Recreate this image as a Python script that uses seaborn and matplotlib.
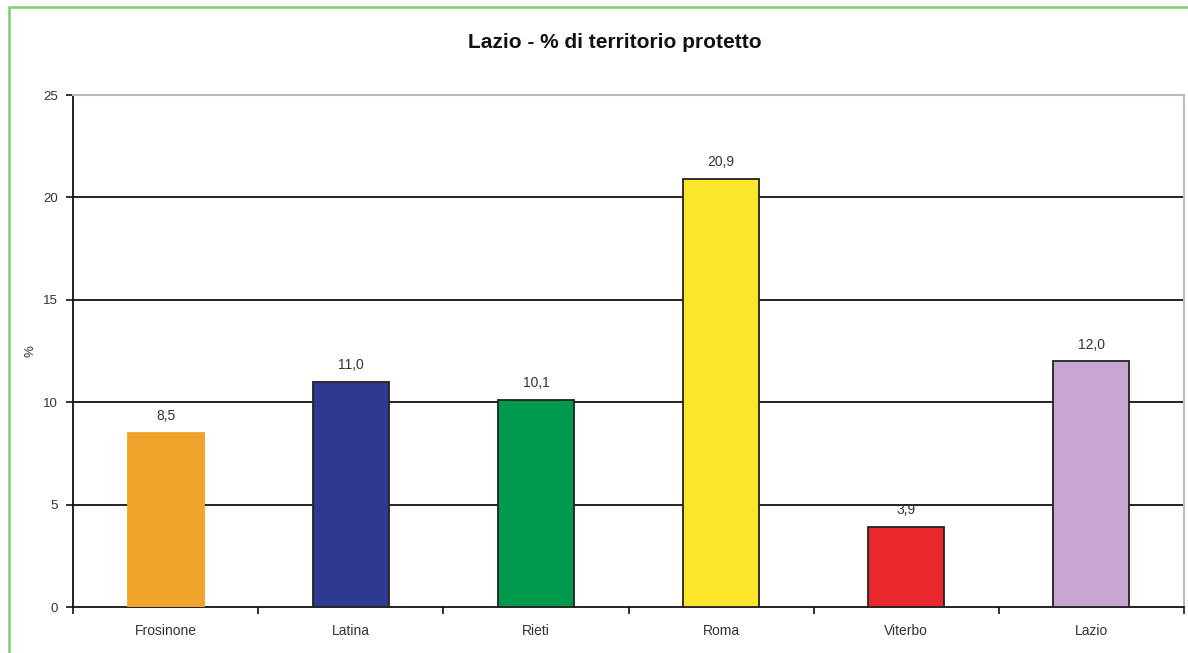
import matplotlib
matplotlib.use("Agg")
import matplotlib.pyplot as plt
from matplotlib.patches import Rectangle
from matplotlib.ticker import FixedLocator
import seaborn as sns
import pandas as pd

# Data
province = ["Frosinone", "Latina", "Rieti", "Roma", "Viterbo", "Lazio"]
territorio_protetto = [8.5, 11.0, 10.1, 20.9, 3.9, 12.0]
colori = ["#F0A42C", "#2E3A92", "#009A4E", "#FBE62A", "#E8282C", "#C9A6D1"]
y_ticks = [0, 5, 10, 15, 20, 25]

sns.set_theme(style="white")
plt.rcParams["font.family"] = ["Liberation Sans", "DejaVu Sans"]

df = pd.DataFrame({"provincia": province, "valore": territorio_protetto})

fig = plt.figure(figsize=(11.88, 6.53), dpi=100)
ax = fig.add_axes([73 / 1188, 1 - 607 / 653, (1184 - 73) / 1188, (607 - 95) / 653])

sns.barplot(data=df, x="provincia", y="valore", hue="provincia",
            palette=colori, saturation=1, legend=False, width=0.41, ax=ax,
            edgecolor="#222222", linewidth=1.3, zorder=3)

# Frosinone bar drawn without outline
for patch, c, name in zip(ax.patches, colori, province):
    if name == "Frosinone":
        patch.set_edgecolor(c)

ax.set_ylim(0, 25)
ax.set_xlim(-0.5, len(province) - 0.5)

# Horizontal gridlines
for v in y_ticks[1:-1]:
    ax.axhline(v, color="#111111", linewidth=1.3, zorder=1)

# Value labels
for i, v in enumerate(territorio_protetto):
    ax.annotate(f"{v:.1f}".replace(".", ","), (i, v), xytext=(0, 7),
                textcoords="offset points", ha="center", va="bottom",
                fontsize=10, color="#333333")

# Axes styling
ax.set_yticks(y_ticks)
ax.set_yticklabels([str(t) for t in y_ticks], fontsize=9.5, color="#333333")
ax.tick_params(axis="y", which="major", direction="out", length=5, width=1.2,
               color="#111111", left=True, pad=6)
ax.tick_params(axis="x", which="major", length=0, labelsize=10,
               labelcolor="#333333", pad=12)
ax.xaxis.set_minor_locator(FixedLocator([i + 0.5 for i in range(-1, len(province))]))
ax.tick_params(axis="x", which="minor", direction="out", length=5, width=1.2,
               color="#111111", bottom=True)

ax.set_xlabel("")
ax.set_ylabel("%", fontsize=9.5, color="#333333")
ax.yaxis.set_label_coords(-0.033, 0.5)

for side in ["left", "bottom"]:
    ax.spines[side].set_color("#111111")
    ax.spines[side].set_linewidth(1.3)
for side in ["top", "right"]:
    ax.spines[side].set_visible(True)
    ax.spines[side].set_color("#BBBBBB")
    ax.spines[side].set_linewidth(1.5)

fig.text(615 / 1188, 1 - 42 / 653, "Lazio - % di territorio protetto",
         ha="center", va="center", fontsize=15, fontweight="bold", color="#111111")

# Green outer frame
fig.patches.append(Rectangle((9 / 1188, -0.05), 1.2, 1.05 - 7 / 653,
                             transform=fig.transFigure, fill=False,
                             edgecolor="#7DCF6A", linewidth=1.8))

fig.savefig("out.png", dpi=100)
